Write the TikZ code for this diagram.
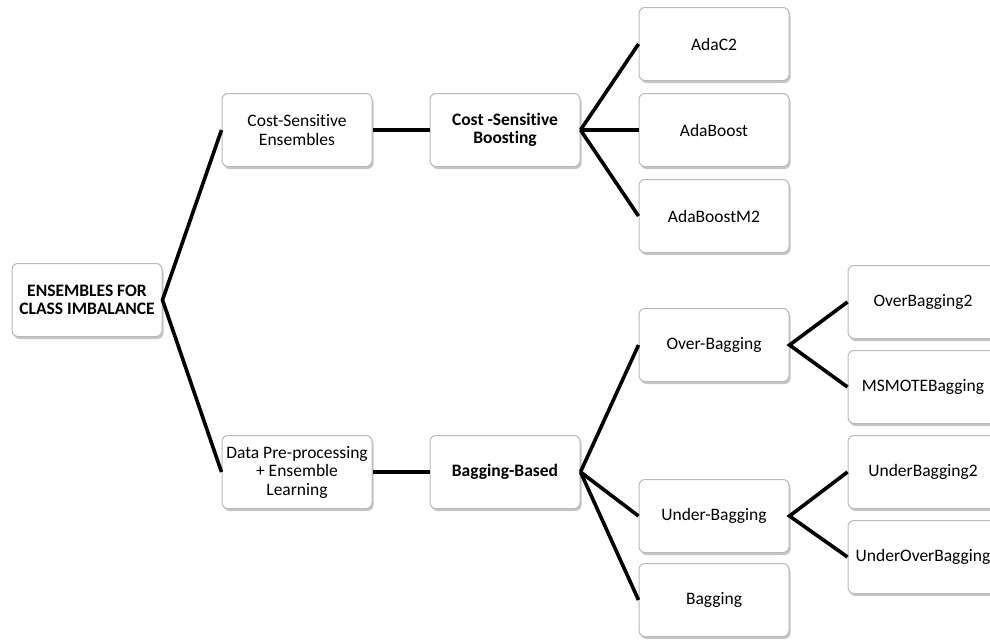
\documentclass[tikz,border=0pt]{standalone}
\usepackage{fontspec}
\setmainfont{Carlito}[Ligatures=NoCommon]
\usetikzlibrary{shadows}
\usepackage{xcolor}

\begin{document}
\begin{tikzpicture}[
  x=1pt, y=-1pt,
  box/.style={rectangle, rounded corners=6pt, draw=gray!55, line width=1pt,
              fill=white, minimum width=150pt, minimum height=73pt,
              align=center, font=\fontsize{17.5}{18.5}\selectfont, inner sep=1pt,
              drop shadow={shadow xshift=1.5pt, shadow yshift=-2.5pt,
                           fill=gray, opacity=0.45}},
  head/.style={box, font=\fontsize{17.5}{18.5}\selectfont\bfseries},
  link/.style={line width=3.6pt, black},
]
  \clip (0,0) rectangle (990,640);

  % --- Root ---
  \node[head] (root) at (87,300) {ENSEMBLES FOR\\CLASS IMBALANCE};

  % --- Cost-sensitive branch ---
  \node[box]  (cse) at (297,130) {Cost-Sensitive\\Ensembles};
  \node[head] (csb) at (505,130) {Cost -Sensitive\\Boosting};
  \node[box]  (adac2)   at (714,44)  {AdaC2};
  \node[box]  (adab)    at (714,130) {AdaBoost};
  \node[box]  (adabm2)  at (714,216) {AdaBoostM2};

  % --- Data pre-processing branch ---
  \node[box]  (dpp) at (297,472) {Data Pre-processing\\+ Ensemble\\Learning};
  \node[head] (bag) at (505,472) {Bagging-Based};
  \node[box]  (over)   at (714,345) {Over-Bagging};
  \node[box]  (under)  at (714,516) {Under-Bagging};
  \node[box]  (plain)  at (714,600) {Bagging};
  \node[box]  (over2)  at (923,302) {OverBagging2};
  \node[box]  (msmote) at (923,387) {MSMOTEBagging};
  \node[box]  (under2) at (923,472) {UnderBagging2};
  \node[box]  (uover)  at (923,557) {UnderOverBagging};

  % Connectors
  \draw[link] (cse.west) -- (root.east) -- (dpp.west);
  \draw[link] (cse) -- (csb);
  \draw[link] (dpp) -- (bag);
  \foreach \t in {adac2,adab,adabm2}
    \draw[link] (csb.east) -- (\t.west);
  \foreach \t in {over,under,plain}
    \draw[link] (bag.east) -- (\t.west);
  \draw[link] (over2.west) -- (over.east) -- (msmote.west);
  \draw[link] (under2.west) -- (under.east) -- (uover.west);
\end{tikzpicture}
\end{document}
